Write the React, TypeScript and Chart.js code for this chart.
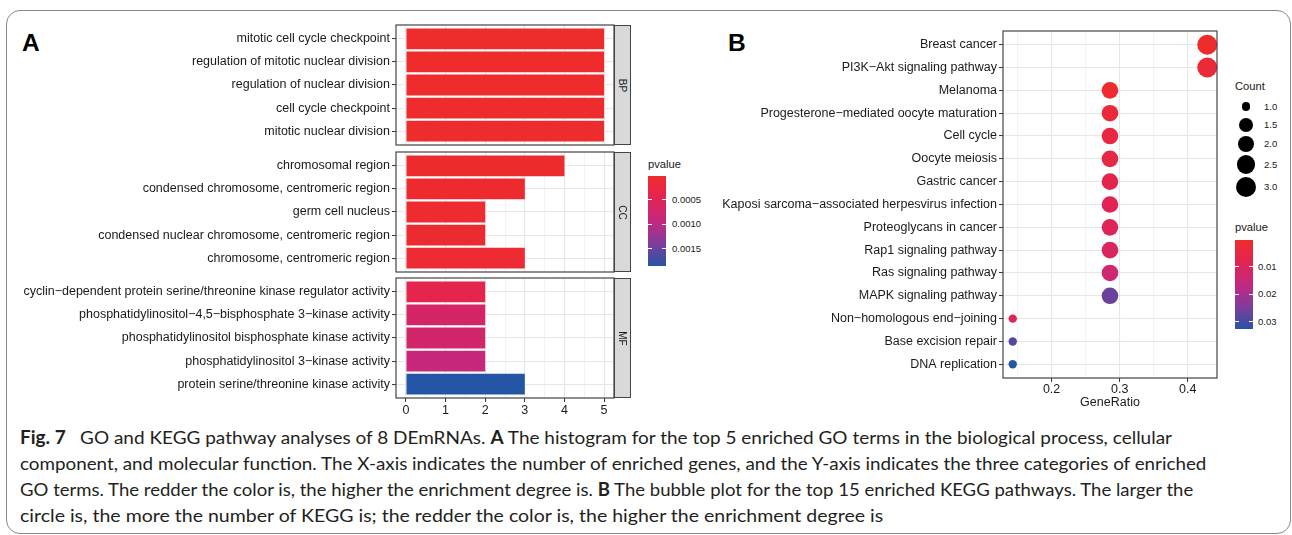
import React, { useEffect, useLayoutEffect, useRef } from 'react';
import { Chart, registerables } from 'chart.js';

Chart.register(...registerables);

const AXIS_FONT = "'Liberation Sans', Arial, Helvetica, sans-serif";
const CAPTION_FONT = "Lato, 'Open Sans', 'Noto Sans', sans-serif";
Chart.defaults.font.family = AXIS_FONT;

// ---------------- Panel A : GO terms ----------------
const bpTerms = [
  'mitotic cell cycle checkpoint',
  'regulation of mitotic nuclear division',
  'regulation of nuclear division',
  'cell cycle checkpoint',
  'mitotic nuclear division',
];
const bpCounts = [5, 5, 5, 5, 5];
const bpPvalues = [0.00001, 0.00001, 0.00002, 0.00002, 0.00003];

const ccTerms = [
  'chromosomal region',
  'condensed chromosome, centromeric region',
  'germ cell nucleus',
  'condensed nuclear chromosome, centromeric region',
  'chromosome, centromeric region',
];
const ccCounts = [4, 3, 2, 2, 3];
const ccPvalues = [0.00005, 0.00004, 0.00006, 0.00007, 0.00008];

const mfTerms = [
  'cyclin\u2212dependent protein serine/threonine kinase regulator activity',
  'phosphatidylinositol\u22124,5\u2212bisphosphate 3\u2212kinase activity',
  'phosphatidylinositol bisphosphate kinase activity',
  'phosphatidylinositol 3\u2212kinase activity',
  'protein serine/threonine kinase activity',
];
const mfCounts = [2, 2, 2, 2, 3];
const mfPvalues = [0.0004, 0.00068, 0.00072, 0.00088, 0.00185];

const goFacetNames = ['BP', 'CC', 'MF'];
const goCountTicks = [0, 1, 2, 3, 4, 5];
const goPvalueBreaks = [0.0005, 0.001, 0.0015];
const goPvalueLabels = ['0.0005', '0.0010', '0.0015'];

// ---------------- Panel B : KEGG pathways ----------------
const keggPathways = [
  'Breast cancer',
  'PI3K\u2212Akt signaling pathway',
  'Melanoma',
  'Progesterone\u2212mediated oocyte maturation',
  'Cell cycle',
  'Oocyte meiosis',
  'Gastric cancer',
  'Kaposi sarcoma\u2212associated herpesvirus infection',
  'Proteoglycans in cancer',
  'Rap1 signaling pathway',
  'Ras signaling pathway',
  'MAPK signaling pathway',
  'Non\u2212homologous end\u2212joining',
  'Base excision repair',
  'DNA replication',
];
const keggGeneRatio = [0.4286, 0.4286, 0.2857, 0.2857, 0.2857, 0.2857, 0.2857, 0.2857, 0.2857, 0.2857, 0.2857, 0.2857, 0.1429, 0.1429, 0.1429];
const keggCounts = [3, 3, 2, 2, 2, 2, 2, 2, 2, 2, 2, 2, 1, 1, 1];
const keggPvalues = [0.0002, 0.0025, 0.0012, 0.003, 0.0045, 0.0055, 0.0068, 0.0085, 0.0095, 0.0105, 0.0135, 0.0265, 0.0095, 0.0285, 0.0326];
const keggRatioTicks = [0.2, 0.3, 0.4];
const keggCountBreaks = [1.0, 1.5, 2.0, 2.5, 3.0];
const keggPvalueBreaks = [0.01, 0.02, 0.03];
const keggPvalueLabels = ['0.01', '0.02', '0.03'];

// ---------------- Caption ----------------
const captionWidths = [1152, 1186, 1173, 863];

// ---------------- helpers ----------------
const gradientStops: [number, number[]][] = [
  [0, [238, 44, 44]],
  [0.25, [226, 36, 82]],
  [0.5, [196, 40, 128]],
  [0.75, [128, 60, 155]],
  [1, [37, 85, 165]],
];
function gradientAt(t: number): string {
  const tt = Math.max(0, Math.min(1, t));
  for (let i = 1; i < gradientStops.length; i++) {
    const [s1, c1] = gradientStops[i];
    const [s0, c0] = gradientStops[i - 1];
    if (tt <= s1) {
      const f = (tt - s0) / (s1 - s0);
      const c = c0.map((v, k) => Math.round(v + (c1[k] - v) * f));
      return `rgb(${c[0]},${c[1]},${c[2]})`;
    }
  }
  const c = gradientStops[gradientStops.length - 1][1];
  return `rgb(${c[0]},${c[1]},${c[2]})`;
}
const cssGradient = `linear-gradient(to bottom, ${gradientStops
  .map(([s, c]) => `rgb(${c.join(',')}) ${s * 100}%`)
  .join(', ')})`;

const goAllP = [...bpPvalues, ...ccPvalues, ...mfPvalues];
const goPMin = Math.min(...goAllP);
const goPMax = Math.max(...goAllP);
const goColor = (p: number) => gradientAt((p - goPMin) / (goPMax - goPMin));

const kPMin = Math.min(...keggPvalues);
const kPMax = Math.max(...keggPvalues);
const keggColor = (p: number) => gradientAt((p - kPMin) / (kPMax - kPMin));

const cMin = Math.min(...keggCounts);
const cMax = Math.max(...keggCounts);
const R_MIN = 4.2;
const R_MAX = 10;
const radiusFor = (c: number) => R_MIN + (R_MAX - R_MIN) * Math.sqrt((c - cMin) / (cMax - cMin));

const TEXT = '#1a1a1a';
const GRID_MAJOR = '#E6E6E6';
const GRID_MINOR = '#EFEFEF';

const framePlugin = {
  id: 'panelFrame',
  afterDatasetsDraw(chart: any) {
    const { ctx, chartArea } = chart;
    ctx.save();
    ctx.strokeStyle = '#444';
    ctx.lineWidth = 1.2;
    ctx.strokeRect(chartArea.left, chartArea.top, chartArea.right - chartArea.left, chartArea.bottom - chartArea.top);
    ctx.restore();
  },
};

const noPad = (s: any) => {
  s.paddingTop = 0;
  s.paddingBottom = 0;
  s.paddingLeft = 0;
  s.paddingRight = 0;
};

// layout constants
const FACET_TOPS = [25, 152, 278];
const FACET_H = 120;
const A_PLOT_LEFT = 396;
const A_PLOT_RIGHT = 614;
const A_X_AXIS_H = 20;

const B_LEFT = 700;
const B_TOP = 30;
const B_PLOT_LEFT = 1003;
const B_PLOT_RIGHT = 1217;
const B_PLOT_TOP = 31;
const B_PLOT_BOTTOM = 378;
const B_X_AXIS_H = 36;

function makeFacet(canvas: HTMLCanvasElement, terms: string[], counts: number[], pvalues: number[], showX: boolean) {
  const goMax = Math.max(...goCountTicks);
  const gridVals: number[] = [];
  for (let i = 0; i < goCountTicks.length; i++) {
    gridVals.push(goCountTicks[i]);
    if (i < goCountTicks.length - 1) gridVals.push((goCountTicks[i] + goCountTicks[i + 1]) / 2);
  }
  const isMajor = (v: number) => goCountTicks.includes(v);
  return new Chart(canvas, {
    type: 'bar',
    data: {
      datasets: [
        {
          data: counts.map((c, i) => ({ x: c, y: i })),
          backgroundColor: pvalues.map(goColor),
          borderWidth: 0,
          barPercentage: 0.9,
          categoryPercentage: 1,
        } as any,
      ],
    },
    options: {
      indexAxis: 'y',
      responsive: false,
      animation: false,
      events: [],
      layout: { autoPadding: false, padding: { left: 0, right: 1, top: 1, bottom: showX ? 0 : 1 } },
      plugins: { legend: { display: false }, tooltip: { enabled: false } },
      scales: {
        x: {
          type: 'linear',
          bounds: 'data',
          offset: false,
          min: -0.05 * goMax,
          max: goMax * 1.05,
          afterBuildTicks: (s: any) => {
            s.ticks = gridVals.map((v) => ({ value: v }));
          },
          afterFit: (s: any) => {
            s.height = showX ? A_X_AXIS_H : 0;
            noPad(s);
          },
          ticks: {
            display: showX,
            autoSkip: false,
            maxRotation: 0,
            padding: 1,
            color: TEXT,
            font: { size: 12.5 },
            callback: (v: any) => (isMajor(v) ? String(v) : ''),
          },
          grid: {
            offset: false,
            color: (c: any) => (isMajor(c.tick?.value) ? GRID_MAJOR : GRID_MINOR),
            lineWidth: (c: any) => (isMajor(c.tick?.value) ? 1.1 : 0.8),
            drawTicks: showX,
            tickLength: 4,
            tickColor: (c: any) => (isMajor(c.tick?.value) ? '#333' : 'rgba(0,0,0,0)'),
            tickWidth: 1,
          },
          border: { display: false },
        },
        y: {
          type: 'linear',
          bounds: 'data',
          offset: false,
          min: -0.6,
          max: terms.length - 1 + 0.6,
          reverse: true,
          afterBuildTicks: (s: any) => {
            s.ticks = terms.map((_, i) => ({ value: i }));
          },
          afterFit: (s: any) => {
            s.width = A_PLOT_LEFT;
            noPad(s);
          },
          ticks: {
            autoSkip: false,
            padding: 2,
            color: TEXT,
            font: { size: 12.5 },
            callback: (v: any) => terms[v],
          },
          grid: { offset: false, color: GRID_MAJOR, lineWidth: 1.1, tickLength: 4, tickColor: '#333', tickWidth: 1 },
          border: { display: false },
        },
      },
    } as any,
    plugins: [framePlugin],
  });
}

function makeKegg(canvas: HTMLCanvasElement) {
  const rMinV = Math.min(...keggGeneRatio);
  const rMaxV = Math.max(...keggGeneRatio);
  const pad = (rMaxV - rMinV) * 0.05;
  const xMin = rMinV - pad;
  const xMax = rMaxV + pad;
  const step = keggRatioTicks[1] - keggRatioTicks[0];
  const gridVals: number[] = [];
  for (let v = keggRatioTicks[0] - step; v <= xMax + 1e-9; v += step / 2) {
    if (v >= xMin - 1e-9) gridVals.push(Math.round(v * 1000) / 1000);
  }
  const isMajor = (v: number) => keggRatioTicks.some((t) => Math.abs(t - v) < 1e-6);
  return new Chart(canvas, {
    type: 'scatter',
    data: {
      datasets: [
        {
          data: keggGeneRatio.map((x, i) => ({ x, y: i })),
          pointRadius: keggCounts.map(radiusFor),
          pointHoverRadius: keggCounts.map(radiusFor),
          pointBackgroundColor: keggPvalues.map(keggColor),
          pointBorderWidth: 0,
          clip: false,
        } as any,
      ],
    },
    options: {
      responsive: false,
      animation: false,
      events: [],
      layout: { autoPadding: false, padding: { left: 0, right: 1, top: 1, bottom: 0 } },
      plugins: { legend: { display: false }, tooltip: { enabled: false } },
      scales: {
        x: {
          type: 'linear',
          bounds: 'data',
          offset: false,
          min: xMin,
          max: xMax,
          afterBuildTicks: (s: any) => {
            s.ticks = gridVals.map((v) => ({ value: v }));
          },
          afterFit: (s: any) => {
            s.height = B_X_AXIS_H;
            noPad(s);
          },
          ticks: {
            autoSkip: false,
            maxRotation: 0,
            padding: 0,
            color: TEXT,
            font: { size: 12.5 },
            callback: (v: any) => (isMajor(v) ? Number(v).toFixed(1) : ''),
          },
          grid: {
            offset: false,
            color: (c: any) => (isMajor(c.tick?.value) ? GRID_MAJOR : GRID_MINOR),
            lineWidth: (c: any) => (isMajor(c.tick?.value) ? 1.1 : 0.8),
            tickLength: 4,
            tickColor: (c: any) => (isMajor(c.tick?.value) ? '#333' : 'rgba(0,0,0,0)'),
            tickWidth: 1,
          },
          border: { display: false },
          title: { display: true, text: 'GeneRatio', color: TEXT, font: { size: 12.5 }, padding: { top: 0, bottom: 3.5 } },
        },
        y: {
          type: 'linear',
          bounds: 'data',
          offset: false,
          min: -0.6,
          max: keggPathways.length - 1 + 0.6,
          reverse: true,
          afterBuildTicks: (s: any) => {
            s.ticks = keggPathways.map((_, i) => ({ value: i }));
          },
          afterFit: (s: any) => {
            s.width = B_PLOT_LEFT - B_LEFT;
            noPad(s);
          },
          ticks: {
            autoSkip: false,
            padding: 2,
            color: TEXT,
            font: { size: 12.5 },
            callback: (v: any) => keggPathways[v],
          },
          grid: { offset: false, color: GRID_MAJOR, lineWidth: 1.1, tickLength: 4, tickColor: '#333', tickWidth: 1 },
          border: { display: false },
        },
      },
    } as any,
    plugins: [framePlugin],
  });
}

const abs = (left: number, top: number, extra: React.CSSProperties = {}): React.CSSProperties => ({
  position: 'absolute',
  left,
  top,
  ...extra,
});

function ColorBar(props: { left: number; top: number; height: number; breaks: number[]; labels: string[]; pMin: number; pMax: number; title: string; titleTop: number; labelLeft: number }) {
  const { left, top, height, breaks, labels, pMin, pMax, title, titleTop, labelLeft } = props;
  const W = 18;
  return (
    <>
      <div style={abs(left, titleTop, { fontFamily: AXIS_FONT, fontSize: 11.2, color: TEXT, lineHeight: '14px', whiteSpace: 'nowrap' })}>{title}</div>
      <div style={abs(left, top, { width: W, height, background: cssGradient })} />
      {breaks.map((b, i) => {
        const y = top + ((b - pMin) / (pMax - pMin)) * height;
        return (
          <React.Fragment key={i}>
            <div style={abs(left, y - 0.5, { width: 3.6, height: 1, background: '#fff' })} />
            <div style={abs(left + W - 3.6, y - 0.5, { width: 3.6, height: 1, background: '#fff' })} />
            <div style={abs(labelLeft, y - 6, { fontFamily: AXIS_FONT, fontSize: 9.5, color: TEXT, lineHeight: '12px', whiteSpace: 'nowrap' })}>{labels[i]}</div>
          </React.Fragment>
        );
      })}
    </>
  );
}

export default function App() {
  const a0 = useRef<HTMLCanvasElement>(null);
  const a1 = useRef<HTMLCanvasElement>(null);
  const a2 = useRef<HTMLCanvasElement>(null);
  const bRef = useRef<HTMLCanvasElement>(null);
  const capRefs = useRef<(HTMLDivElement | null)[]>([]);

  useEffect(() => {
    const charts: Chart[] = [];
    charts.push(makeFacet(a0.current!, bpTerms, bpCounts, bpPvalues, false));
    charts.push(makeFacet(a1.current!, ccTerms, ccCounts, ccPvalues, false));
    charts.push(makeFacet(a2.current!, mfTerms, mfCounts, mfPvalues, true));
    charts.push(makeKegg(bRef.current!));
    return () => charts.forEach((c) => c.destroy());
  }, []);

  useLayoutEffect(() => {
    capRefs.current.forEach((el, i) => {
      if (!el) return;
      el.style.transform = 'none';
      const w = el.scrollWidth;
      if (w > 0) el.style.transform = `scaleX(${captionWidths[i] / w})`;
    });
  }, []);

  const facetRefs = [a0, a1, a2];
  const facetW = A_PLOT_RIGHT + 1;
  const bW = B_PLOT_RIGHT - B_LEFT + 1;
  const bH = 1 + (B_PLOT_BOTTOM - B_PLOT_TOP) + B_X_AXIS_H;

  const countDotY = [106.5, 125, 144, 164.5, 187];
  const capLineCenters = [437, 463, 489, 515];

  const capStyle = (i: number): React.CSSProperties =>
    abs(20, capLineCenters[i] - 12, {
      fontFamily: CAPTION_FONT,
      fontSize: 18,
      lineHeight: '24px',
      color: '#231f20',
      whiteSpace: 'nowrap',
      transformOrigin: '0 50%',
    });

  return (
    <div style={{ position: 'fixed', left: 0, top: 0, width: 1292, height: 535, background: '#fff', overflow: 'hidden' }}>
      {/* outer frame */}
      <div style={abs(6, 10, { width: 1285, height: 524, border: '1.5px solid #888', borderRadius: 14, boxSizing: 'border-box' })} />

      {/* panel labels */}
      <div style={abs(22, 28, { fontFamily: AXIS_FONT, fontWeight: 700, fontSize: 24.5, lineHeight: '30px', color: '#000' })}>A</div>
      <div style={abs(728, 28, { fontFamily: AXIS_FONT, fontWeight: 700, fontSize: 24.5, lineHeight: '30px', color: '#000' })}>B</div>

      {/* panel A facets */}
      {facetRefs.map((r, k) => {
        const h = 1 + FACET_H + (k === 2 ? A_X_AXIS_H : 1);
        return (
          <canvas key={k} ref={r} width={facetW} height={h} style={abs(0, FACET_TOPS[k] - 1, { width: facetW, height: h })} />
        );
      })}
      {goFacetNames.map((n, k) => (
        <div
          key={n}
          style={abs(A_PLOT_RIGHT, FACET_TOPS[k], {
            width: 17,
            height: FACET_H,
            background: '#D9D9D9',
            border: '1.2px solid #444',
            boxSizing: 'border-box',
            display: 'flex',
            alignItems: 'center',
            justifyContent: 'center',
          })}
        >
          <span style={{ display: 'inline-block', transform: 'rotate(90deg)', fontFamily: AXIS_FONT, fontSize: 10, color: TEXT, whiteSpace: 'nowrap' }}>{n}</span>
        </div>
      ))}

      {/* panel A legend */}
      <ColorBar left={648} top={176} height={90} breaks={goPvalueBreaks} labels={goPvalueLabels} pMin={goPMin} pMax={goPMax} title="pvalue" titleTop={157} labelLeft={672} />

      {/* panel B */}
      <canvas ref={bRef} width={bW} height={bH} style={abs(B_LEFT, B_TOP, { width: bW, height: bH })} />

      {/* panel B legends */}
      <div style={abs(1235, 79, { fontFamily: AXIS_FONT, fontSize: 11.2, color: TEXT, lineHeight: '14px' })}>Count</div>
      {keggCountBreaks.map((c, i) => {
        const r = radiusFor(c);
        return (
          <React.Fragment key={i}>
            <div style={abs(1246 - r, countDotY[i] - r, { width: 2 * r, height: 2 * r, borderRadius: '50%', background: '#000' })} />
            <div style={abs(1264, countDotY[i] - 6, { fontFamily: AXIS_FONT, fontSize: 9.5, color: TEXT, lineHeight: '12px' })}>{c.toFixed(1)}</div>
          </React.Fragment>
        );
      })}
      <ColorBar left={1235} top={239.5} height={89.5} breaks={keggPvalueBreaks} labels={keggPvalueLabels} pMin={kPMin} pMax={kPMax} title="pvalue" titleTop={220} labelLeft={1258} />

      {/* caption */}
      <div ref={(el) => { capRefs.current[0] = el; }} style={capStyle(0)}>
        <b>Fig. 7</b>
        {'\u2002 GO and KEGG pathway analyses of 8 DEmRNAs. '}
        <b>A</b>
        {' The histogram for the top 5 enriched GO terms in the biological process, cellular'}
      </div>
      <div ref={(el) => { capRefs.current[1] = el; }} style={capStyle(1)}>
        component, and molecular function. The X-axis indicates the number of enriched genes, and the Y-axis indicates the three categories of enriched
      </div>
      <div ref={(el) => { capRefs.current[2] = el; }} style={capStyle(2)}>
        {'GO terms. The redder the color is, the higher the enrichment degree is. '}
        <b>B</b>
        {' The bubble plot for the top 15 enriched KEGG pathways. The larger the'}
      </div>
      <div ref={(el) => { capRefs.current[3] = el; }} style={capStyle(3)}>
        circle is, the more the number of KEGG is; the redder the color is, the higher the enrichment degree is
      </div>
    </div>
  );
}
